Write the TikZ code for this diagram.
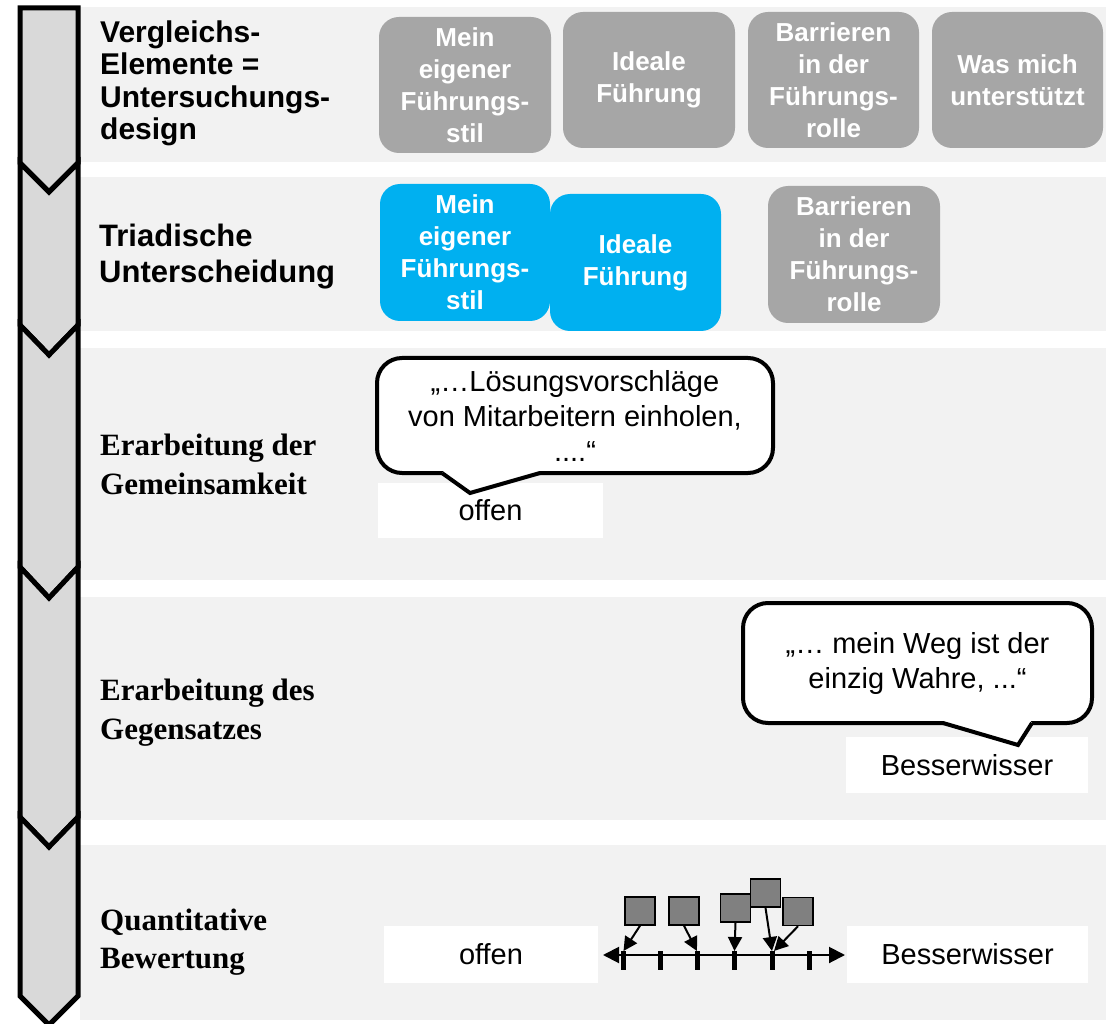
\documentclass[tikz,border=0pt]{standalone}
\usepackage{fontspec}
\setmainfont{Liberation Sans}
\newfontfamily\tnr{Liberation Serif}
\usetikzlibrary{arrows.meta}
\definecolor{bandc}{HTML}{F2F2F2}
\definecolor{chevc}{HTML}{D9D9D9}
\definecolor{boxgray}{HTML}{A6A6A6}
\definecolor{boxblue}{HTML}{00B0F0}
\definecolor{sqgray}{HTML}{808080}
\begin{document}
\begin{tikzpicture}[x=1pt,y=-1pt,
  bandbg/.style={fill=bandc},
  chevron/.style={fill=chevc, draw=black, line width=5pt, line join=miter},
  sanslbl/.style={anchor=base west, inner sep=0pt, align=left, font=\bfseries\fontsize{30}{32.5}\selectfont},
  seriflbl/.style={anchor=base west, inner sep=0pt, align=left, font=\tnr\bfseries\fontsize{31}{39}\selectfont},
  elem/.style={rounded corners=20pt, inner sep=0pt, text=white, align=center,
    font=\bfseries\fontsize{26}{32}\selectfont},
  bubble/.style={draw=black, fill=white, line width=4pt, rounded corners=25pt, inner sep=0pt,
    align=center, font=\fontsize{29}{35}\selectfont},
  whitebox/.style={fill=white, inner sep=0pt, font=\fontsize{29}{35}\selectfont},
  sq/.style={fill=sqgray, draw=black, line width=1.5pt, minimum width=30pt, minimum height=28pt, inner sep=0pt},
  sqarrow/.style={line width=2pt, -{Triangle[length=14pt,width=14pt]}},
  tick/.style={line width=5pt}
]
\useasboundingbox (0,0) rectangle (1106,1024);
\fill[white] (0,0) rectangle (1106,1024);

% bands
\fill[bandbg] (80,7) rectangle (1106,162);
\fill[bandbg] (80,177) rectangle (1106,331);
\fill[bandbg] (80,348) rectangle (1106,580);
\fill[bandbg] (80,597) rectangle (1106,820);
\fill[bandbg] (80,845) rectangle (1106,1020);

% chevrons
\draw[chevron] (20,8) -- (78,8) -- (78,163) -- (49,192) -- (20,163) -- cycle;
\draw[chevron] (20,163) -- (49,192) -- (78,163) -- (78,325) -- (49,355) -- (20,325) -- cycle;
\draw[chevron] (20,325) -- (49,355) -- (78,325) -- (78,567) -- (49,598) -- (20,567) -- cycle;
\draw[chevron] (20,567) -- (49,598) -- (78,567) -- (78,817) -- (49,847) -- (20,817) -- cycle;
\draw[chevron] (20,817) -- (49,847) -- (78,817) -- (78,996) -- (49,1025) -- (20,996) -- cycle;

% left labels (anchor = baseline of last line)
\node[sanslbl] (l1) at (100,140) {Vergleichs-\\Elemente =\\Untersuchungs-\\design};
\node[sanslbl, font=\bfseries\fontsize{31}{36}\selectfont] (l2) at (99,283) {Triadische\\Unterscheidung};
\node[seriflbl] (l3) at (100,494) {Erarbeitung der\\Gemeinsamkeit};
\node[seriflbl] (l4) at (100,739) {Erarbeitung des\\Gegensatzes};
\node[seriflbl, font=\tnr\bfseries\fontsize{31}{38}\selectfont] (l5) at (100,968) {Quantitative\\Bewertung};

% band 1 elements
\node[elem, fill=boxgray, minimum width=172pt, minimum height=136pt] (e1) at (465,85) {Mein\\eigener\\Führungs-\\stil};
\node[elem, fill=boxgray, minimum width=172pt, minimum height=136pt] (e2) at (649,80) {Ideale\\Führung};
\node[elem, fill=boxgray, minimum width=171pt, minimum height=136pt] (e3) at (833.5,80) {Barrieren\\in der\\Führungs-\\rolle};
\node[elem, fill=boxgray, minimum width=171pt, minimum height=136pt] (e4) at (1017.5,80) {Was mich\\unterstützt};

% band 2 triad
\node[elem, fill=boxblue, minimum width=170pt, minimum height=137pt] (t1) at (465,252.5) {Mein\\eigener\\Führungs-\\stil};
\node[elem, fill=boxblue, minimum width=171pt, minimum height=137pt] (t2) at (635.5,262.5) {Ideale\\Führung};
\node[elem, fill=boxgray, minimum width=172pt, minimum height=137pt] (t3) at (854,254.5) {Barrieren\\in der\\Führungs-\\rolle};

% band 3
\node[whitebox, minimum width=225pt, minimum height=55pt] (o1) at (490.5,510.5) {offen};
\node[bubble, minimum width=396pt, minimum height=115pt] (b1) at (575,415.5) {„…Lösungsvorschläge\\von Mitarbeitern einholen,\\....“};
\fill[white] (444,470.5) -- (538,470.5) -- (540,473) -- (470,493) -- (442,473) -- cycle;
\draw[line width=4pt, line join=miter] (442,473) -- (470,493) -- (540,473);

% band 4
\node[whitebox, minimum width=242pt, minimum height=56pt] (w1) at (967,765) {Besserwisser};
\node[bubble, minimum width=349pt, minimum height=120pt] (b2) at (917.5,663) {„… mein Weg ist der\\einzig Wahre, ...“};
\fill[white] (945,720.5) -- (1030,720.5) -- (1032,723) -- (1018,745) -- (943,723) -- cycle;
\draw[line width=4pt, line join=miter] (943,723) -- (1018,745) -- (1032,723);

% band 5
\node[whitebox, minimum width=214pt, minimum height=57pt] (o2) at (491,954.5) {offen};
\node[whitebox, minimum width=241pt, minimum height=57pt] (w2) at (967.5,954.5) {Besserwisser};
\coordinate (axL) at (603,955);
\coordinate (axR) at (845,955);
\draw[line width=2pt, {Triangle[length=16pt,width=16pt]}-{Triangle[length=16pt,width=16pt]}] (axL) -- (axR);
\coordinate (k1) at (623.5,951);
\coordinate (k2) at (660,951);
\coordinate (k3) at (697,951);
\coordinate (k4) at (734.5,951);
\coordinate (k5) at (772,951);
\coordinate (k6) at (809,951);
\foreach \k in {k1,k2,k3,k4,k5,k6} \draw[tick] (\k) -- ++(0,19);
\node[sq] (s1) at (640,911) {};
\node[sq] (s2) at (684,911) {};
\node[sq] (s3) at (735.5,908) {};
\node[sq] (s4) at (765.5,893) {};
\node[sq] (s5) at (798,911.5) {};
\draw[sqarrow] (s1.south) -- (k1);
\draw[sqarrow] (s2.south) -- (k3);
\draw[sqarrow] (s3.south) -- (k4);
\draw[sqarrow] (s4.south) -- (k5);
\draw[sqarrow] (s5.south) -- ([xshift=2pt]k5);
\end{tikzpicture}
\end{document}
